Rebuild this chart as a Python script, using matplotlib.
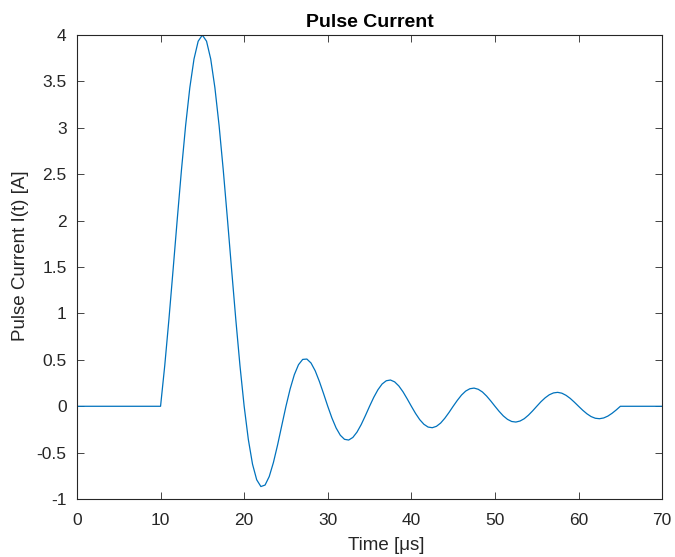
import numpy as np
import matplotlib
matplotlib.use("Agg")
import matplotlib.pyplot as plt
from matplotlib.ticker import FuncFormatter

# pulse samples (0.5 us steps between 10 and 65 us)
pulse_start = 10.0
step = 0.5
current_pulse = [
    0.000, 0.437, 0.936, 1.472, 2.018, 2.546, 3.027, 3.433, 3.742, 3.934,
    4.000, 3.934, 3.742, 3.433, 3.027, 2.546, 2.018, 1.472, 0.936, 0.437,
    0.000, -0.358, -0.624, -0.792, -0.865, -0.849, -0.757, -0.606, -0.416, -0.207,
    0.000, 0.187, 0.340, 0.448, 0.505, 0.509, 0.466, 0.382, 0.267, 0.136,
    0.000, -0.127, -0.234, -0.312, -0.356, -0.364, -0.336, -0.278, -0.197, -0.101,
    0.000, 0.096, 0.178, 0.240, 0.275, 0.283, 0.263, 0.219, 0.156, 0.080,
    0.000, -0.077, -0.144, -0.194, -0.224, -0.231, -0.216, -0.181, -0.129, -0.067,
    0.000, 0.064, 0.121, 0.164, 0.189, 0.196, 0.183, 0.154, 0.110, 0.057,
    0.000, -0.055, -0.104, -0.141, -0.164, -0.170, -0.159, -0.134, -0.096, -0.050,
    0.000, 0.049, 0.091, 0.124, 0.144, 0.150, 0.141, 0.118, 0.085, 0.044,
    0.000, -0.043, -0.081, -0.111, -0.129, -0.134, -0.126, -0.106, -0.076, -0.040,
    0.000,
]
x_ticks = [0, 10, 20, 30, 40, 50, 60, 70]
y_ticks = [-1, -0.5, 0, 0.5, 1, 1.5, 2, 2.5, 3, 3.5, 4]

t_pulse = pulse_start + step * np.arange(len(current_pulse))
time = np.concatenate([[0.0], t_pulse, [70.0]])
current = np.concatenate([[0.0], current_pulse, [0.0]])

plt.rcParams["font.family"] = ["Liberation Sans", "DejaVu Sans"]
dark = "#262626"

fig = plt.figure(figsize=(6.75, 5.57), dpi=100)
ax = fig.add_axes([0.114, 0.104, 0.867, 0.833])
ax.plot(time, current, color="#0072BD", lw=0.9)

ax.set_xlim(0, 70)
ax.set_ylim(-1, 4)
ax.set_xticks(x_ticks)
ax.set_yticks(y_ticks)
fmt = FuncFormatter(lambda v, p: f"{v:g}")
ax.xaxis.set_major_formatter(fmt)
ax.yaxis.set_major_formatter(fmt)
ax.tick_params(direction="in", length=5, width=0.6, top=True, right=True,
               labelsize=12.5, colors=dark)
ax.tick_params(axis="x", pad=10)
ax.tick_params(axis="y", pad=7.5)
for s in ax.spines.values():
    s.set_color(dark)
    s.set_linewidth(0.8)

ax.set_title("Pulse Current", fontsize=14, fontweight="bold", color="black", pad=6)
ax.set_xlabel("Time [μs]", fontsize=13.5, color=dark)
ax.set_ylabel("Pulse Current I(t) [A]", fontsize=13.5, color=dark)
# labels sit a bit off-centre in the original
ax.xaxis.set_label_coords(0.528, -0.101)
ax.yaxis.set_label_coords(-0.097, 0.524)
ax.xaxis.label.set_va("center")
ax.yaxis.label.set_va("center")

fig.savefig("out.png", dpi=100)
